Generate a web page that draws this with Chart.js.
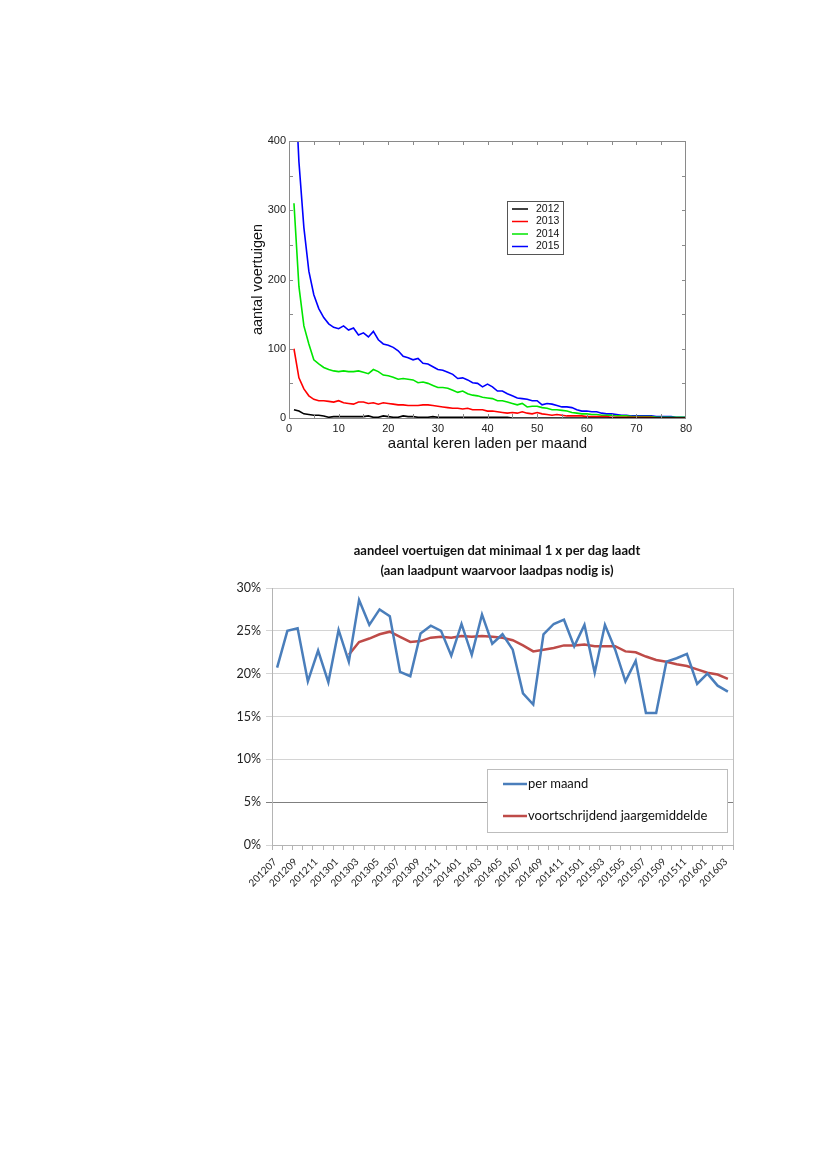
<!DOCTYPE html>
<html lang="nl">
<head>
<meta charset="UTF-8">
<title>Laadgedrag elektrische voertuigen</title>
<script src="https://cdn.jsdelivr.net/npm/chart.js"></script>
<style>
  body { margin: 0; background: #fff; }
  .box { position: absolute; }
  #box1 { left: 230px; top: 130px; width: 470px; height: 330px; }
  #box2 { left: 230px; top: 540px; width: 534px; height: 370px; }
</style>
</head>
<body>
<div class="box" id="box1"><canvas id="chartLaden"></canvas></div>
<div class="box" id="box2"><canvas id="chartAandeel"></canvas></div>

<script>
// --- grafiek 1: aantal keren laden per maand ---
const keren = [1,2,3,4,5,6,7,8,9,10,11,12,13,14,15,16,17,18,19,20,
  21,22,23,24,25,26,27,28,29,30,31,32,33,34,35,36,37,38,39,40,
  41,42,43,44,45,46,47,48,49,50,51,52,53,54,55,56,57,58,59,60,
  61,62,63,64,65,66,67,68,69,70,71,72,73,74,75,76,77,78,79,80];

const jaren = ["2012", "2013", "2014", "2015"];

const v2012 = [12,10,6,5,4,4,3,1,2,2, 2,2,2,2,2,3,1,1,3,2,
  1,1,3,2,2,1,1,1,2,1, 1,1,1,1,1,1,1,1,1,1,
  1,1,1,1,0,0,0,0,0,0, 0,0,0,0,0,0,0,0,0,0,
  0,0,0,0,0,0,0,0,0,0, 0,0,0,0,0,0,0,0,0,0];
const v2013 = [100,58,42,32,27,25,25,24,23,25, 22,21,20,23,23,21,22,20,22,21,
  20,19,19,18,18,18,19,19,18,17, 16,15,14,14,13,14,12,12,12,10,
  10,9,8,7,8,7,9,7,6,8, 6,5,4,5,4,3,3,3,3,2,
  2,2,2,2,1,1,1,1,1,1, 1,1,1,0,0,0,0,0,0,0];
const v2014 = [310,190,133,107,84,78,73,70,68,67, 68,67,67,68,66,64,70,67,62,61,
  59,56,57,56,55,51,52,50,47,44, 44,43,40,37,39,35,33,32,30,29,
  28,25,25,23,21,19,21,16,17,17, 15,14,12,12,11,10,8,7,6,6,
  5,5,4,4,4,3,3,3,2,2, 2,2,2,1,1,1,1,1,1,1];
const v2015 = [520,370,275,212,178,158,145,136,131,129, 133,127,130,120,123,117,125,113,107,105,
  102,97,89,87,84,86,79,78,74,70, 69,66,63,57,58,55,51,50,45,49,
  45,39,39,35,32,29,28,27,25,25, 19,21,20,18,16,16,15,12,10,10,
  9,9,7,6,6,5,4,4,3,3, 3,3,3,2,2,2,2,1,1,1];

const kleuren1 = ["#000000", "#ff0000", "#00e600", "#0000ff"];

// --- grafiek 2: aandeel per maand ---
const titel2 = ["aandeel voertuigen dat minimaal 1 x per dag laadt", "(aan laadpunt waarvoor laadpas nodig is)"];

const maanden = ["201207","201208","201209","201210","201211","201212",
  "201301","201302","201303","201304","201305","201306","201307","201308","201309","201310","201311","201312",
  "201401","201402","201403","201404","201405","201406","201407","201408","201409","201410","201411","201412",
  "201501","201502","201503","201504","201505","201506","201507","201508","201509","201510","201511","201512",
  "201601","201602","201603"];

const perMaand = [20.7,25.0,25.3,19.1,22.7,19.0,25.1,21.4,28.6,25.7,27.5,26.7,
  20.2,19.7,24.7,25.6,25.0,22.1,25.8,22.2,26.9,23.5,24.6,22.8,
  17.7,16.4,24.6,25.8,26.3,23.2,25.7,20.1,25.7,22.8,19.1,21.5,
  15.4,15.4,21.4,21.8,22.3,18.8,20.0,18.6,17.9];

const jaarGemiddelde = [null,null,null,null,null,null,null,22.2,23.7,24.1,24.6,24.9,
  24.3,23.7,23.8,24.2,24.3,24.2,24.4,24.3,24.4,24.3,24.2,23.9,
  23.3,22.6,22.8,23.0,23.3,23.3,23.4,23.2,23.2,23.2,22.6,22.5,
  22.0,21.6,21.4,21.1,20.9,20.5,20.1,19.9,19.4];

const procentTicks = [0, 5, 10, 15, 20, 25, 30];

// frame + ticks naar binnen, en legenda in kader (grafiek 1)
const kaderPlugin = {
  id: "kader",
  afterDraw(chart) {
    const { ctx, chartArea: a, scales } = chart;
    ctx.save();
    ctx.strokeStyle = "#8a8a8a";
    ctx.lineWidth = 1;
    ctx.strokeRect(a.left + 0.5, a.top + 0.5, a.right - a.left - 1, a.bottom - a.top);
    ctx.beginPath();
    for (let v = 5; v < 80; v += 5) {
      const x = Math.round(scales.x.getPixelForValue(v)) + 0.5;
      ctx.moveTo(x, a.bottom); ctx.lineTo(x, a.bottom - 4);
      ctx.moveTo(x, a.top); ctx.lineTo(x, a.top + 4);
    }
    for (let v = 50; v < 400; v += 50) {
      const y = Math.round(scales.y.getPixelForValue(v)) + 0.5;
      ctx.moveTo(a.left, y); ctx.lineTo(a.left + 4, y);
      ctx.moveTo(a.right, y); ctx.lineTo(a.right - 4, y);
    }
    ctx.stroke();

    // legenda
    const lx = a.left + 218, ly = a.top + 60;
    ctx.strokeStyle = "#555";
    ctx.strokeRect(lx + 0.5, ly + 0.5, 56, 53);
    ctx.font = "10.5px 'Liberation Sans', Arial, sans-serif";
    ctx.textBaseline = "middle";
    ctx.fillStyle = "#111";
    chart.data.datasets.forEach((ds, i) => {
      const y = ly + 8 + i * 12.5;
      ctx.strokeStyle = ds.borderColor;
      ctx.lineWidth = 1.5;
      ctx.beginPath();
      ctx.moveTo(lx + 5, y); ctx.lineTo(lx + 21, y);
      ctx.stroke();
      ctx.fillText(ds.label, lx + 29, y);
    });
    ctx.restore();
  }
};

new Chart(document.getElementById("chartLaden"), {
  type: "line",
  data: {
    datasets: [v2012, v2013, v2014, v2015].map((reeks, i) => ({
      label: jaren[i],
      data: reeks.map((v, j) => ({ x: keren[j], y: v })),
      borderColor: kleuren1[i],
      borderWidth: 1.6,
      pointRadius: 0,
      tension: 0,
    })),
  },
  options: {
    responsive: true,
    maintainAspectRatio: false,
    animation: false,
    layout: { padding: { top: 11, right: 14, left: 0, bottom: 0 } },
    plugins: { legend: { display: false }, tooltip: { enabled: false } },
    scales: {
      x: {
        type: "linear", min: 0, max: 80,
        grid: { display: false, drawTicks: false },
        border: { display: false },
        ticks: { stepSize: 10, padding: 4, color: "#222", font: { family: "'Liberation Sans', Arial, sans-serif", size: 11 } },
        title: { display: true, text: "aantal keren laden per maand", color: "#111",
          font: { family: "'Liberation Sans', Arial, sans-serif", size: 15 }, padding: { top: 0, bottom: 7 } },
        afterFit(s) { s.height = 42; },
      },
      y: {
        min: 0, max: 400,
        grid: { display: false, drawTicks: false },
        border: { display: false },
        ticks: { stepSize: 100, padding: 3, color: "#222", font: { family: "'Liberation Sans', Arial, sans-serif", size: 11 } },
        title: { display: true, text: "aantal voertuigen", color: "#111",
          font: { family: "'Liberation Sans', Arial, sans-serif", size: 14.5 }, padding: { top: 19, bottom: 0 } },
        afterFit(s) { s.width = 59; },
      },
    },
  },
  plugins: [kaderPlugin],
});

// titel (gecentreerd op canvas), rechterrand + legenda (grafiek 2)
const excelPlugin = {
  id: "excelKader",
  afterDraw(chart) {
    const { ctx, chartArea: a } = chart;
    ctx.save();
    ctx.fillStyle = "#111";
    ctx.font = "bold 13px Lato, 'Open Sans', sans-serif";
    ctx.textAlign = "center";
    ctx.textBaseline = "middle";
    titel2.forEach((regel, i) => ctx.fillText(regel, chart.width / 2, 11 + i * 20));
    ctx.textAlign = "left";

    ctx.strokeStyle = "#bfbfbf";
    ctx.lineWidth = 1;
    ctx.beginPath();
    ctx.moveTo(Math.round(a.right) + 0.5, a.top);
    ctx.lineTo(Math.round(a.right) + 0.5, a.bottom);
    ctx.stroke();

    const lx = a.left + 215, ly = a.top + 181;
    ctx.fillStyle = "#fff";
    ctx.fillRect(lx, ly, 240, 63);
    ctx.strokeStyle = "#bdbdbd";
    ctx.strokeRect(lx + 0.5, ly + 0.5, 240, 63);
    ctx.font = "13px Lato, 'Open Sans', sans-serif";
    ctx.fillStyle = "#111";
    chart.data.datasets.forEach((ds, i) => {
      const y = ly + 15 + i * 32;
      ctx.strokeStyle = ds.borderColor;
      ctx.lineWidth = 2.5;
      ctx.beginPath();
      ctx.moveTo(lx + 16, y); ctx.lineTo(lx + 40, y);
      ctx.stroke();
      ctx.fillText(ds.label, lx + 41, y);
    });
    ctx.restore();
  }
};

new Chart(document.getElementById("chartAandeel"), {
  type: "line",
  data: {
    labels: maanden,
    datasets: [
      { label: "per maand", data: perMaand, borderColor: "#4a7ebb", borderWidth: 2.5, pointRadius: 0, tension: 0 },
      { label: "voortschrijdend jaargemiddelde", data: jaarGemiddelde, borderColor: "#be4b48", borderWidth: 2.5, pointRadius: 0, tension: 0 },
    ],
  },
  options: {
    responsive: true,
    maintainAspectRatio: false,
    animation: false,
    layout: { padding: { top: 48, right: 31, left: 0, bottom: 0 } },
    plugins: {
      legend: { display: false },
      tooltip: { enabled: false },
    },
    scales: {
      x: {
        offset: true,
        grid: { offset: true, drawOnChartArea: false, tickLength: 5, color: "#b4b4b4" },
        border: { color: "#b4b4b4" },
        ticks: {
          autoSkip: false, minRotation: 45, maxRotation: 45, padding: 6, labelOffset: -2,
          color: "#222", font: { family: "Lato, 'Open Sans', sans-serif", size: 10 },
          callback(val, idx) { return idx % 2 === 0 ? this.getLabelForValue(val) : ""; },
        },
        afterFit(s) { s.height = 65; },
      },
      y: {
        min: 0, max: 30,
        afterBuildTicks(s) { s.ticks = procentTicks.map(v => ({ value: v })); },
        grid: {
          tickLength: 6,
          color: (c) => (c.tick && c.tick.value === 5 ? "#7f7f7f" : "#d4d4d4"),
        },
        border: { color: "#b4b4b4" },
        ticks: {
          padding: 5, color: "#222", font: { family: "Lato, 'Open Sans', sans-serif", size: 12.5 },
          callback: (v) => v + "%",
        },
        afterFit(s) { s.width = 42; },
      },
    },
  },
  plugins: [excelPlugin],
});
</script>
</body>
</html>
